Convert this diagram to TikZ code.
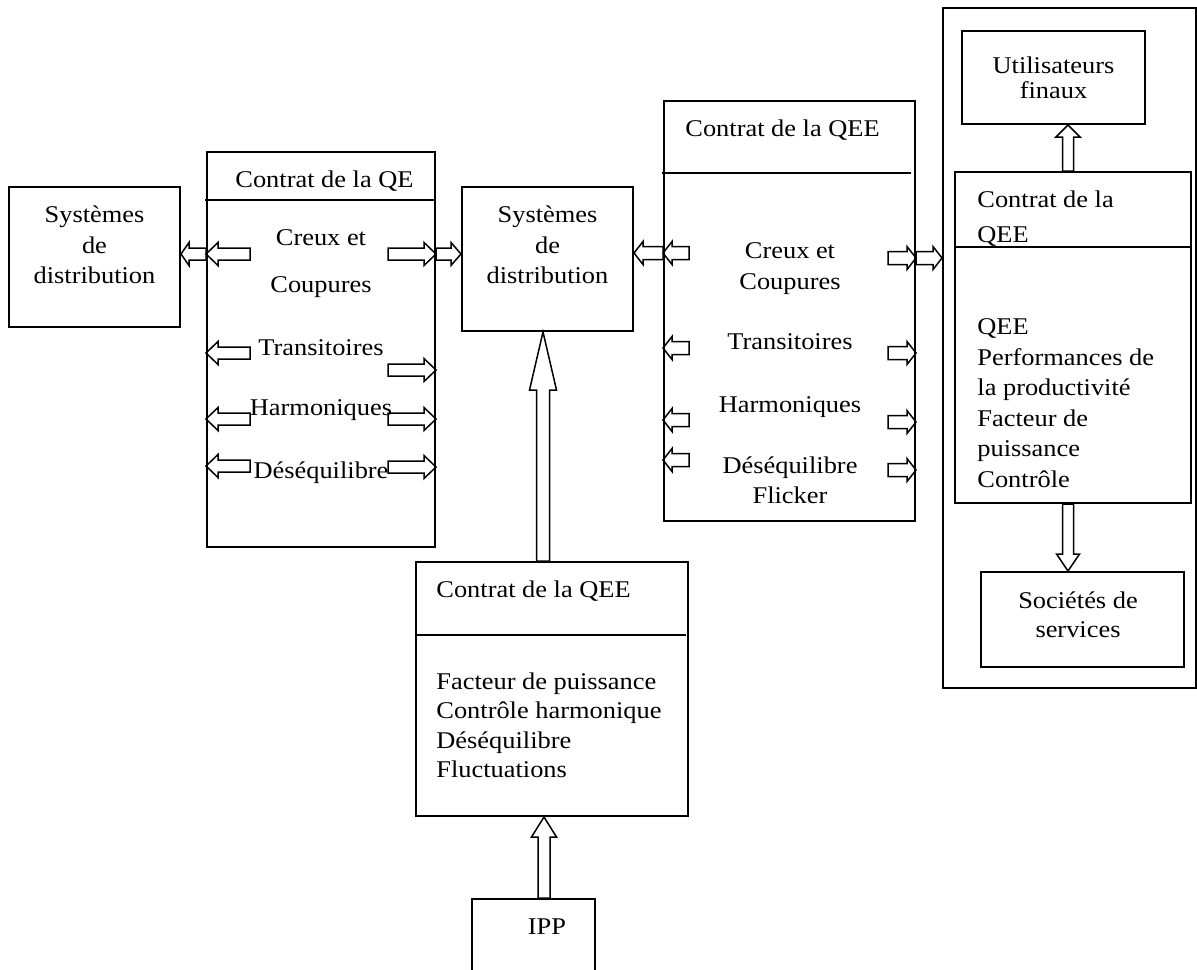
\documentclass[tikz,border=0pt]{standalone}
\usepackage{fontspec}
\setmainfont{Liberation Serif}[FakeStretch=1.1]
\usetikzlibrary{calc}

\newcommand{\fatarrow}[5]{%
  \coordinate (hb) at ($(#2)!#5!(#1)$);
  \draw[fat] ($(#1)!#3!90:(#2)$) -- ($(hb)!#3!-90:(#1)$) -- ($(hb)!#4!-90:(#1)$) -- (#2)
    -- ($(hb)!#4!90:(#1)$) -- ($(hb)!#3!90:(#1)$) -- ($(#1)!#3!-90:(#2)$) -- cycle;
}

\begin{document}
\begin{tikzpicture}[
    x=0.5pt, y=-0.5pt,
    every node/.style={font=\fontsize{12}{13.8}\selectfont},
    box/.style={draw, line width=1pt, inner sep=0pt},
    txt/.style={inner sep=0pt, align=center, anchor=north},
    lft/.style={inner sep=0pt, align=left, anchor=north west},
    fat/.style={draw, line width=0.75pt, line join=miter}
]
\useasboundingbox (0,0) rectangle (1197,969);
\clip (0,0) rectangle (1197,969);

\node[box, minimum width=85.5pt, minimum height=70pt] (lsys) at (94.5,257) {};
\node[txt, font=\fontsize{12}{15.25}\selectfont] (lsystxt) at (94.5,205.5) {Systèmes\\de\\distribution};

\node[box, minimum width=114pt, minimum height=197.5pt] (cqe) at (321,349.5) {};
\draw[line width=0.8pt] (205,200) -- (cqe.east |- 0,200);
\node[lft] (cqehead) at (235,170) {Contrat de la QE};
\node[txt, font=\fontsize{12}{23.5}\selectfont] (cqecreux) at (321,229.5) {Creux et\\Coupures};
\node[txt] (cqetrans) at (321,339.5) {Transitoires};
\node[txt] (cqeharm) at (321,399.5) {Harmoniques};
\node[txt] (cqedes) at (321,461.5) {Déséquilibre};

\node[box, minimum width=85.5pt, minimum height=72pt] (msys) at (547.5,259) {};
\node[txt, font=\fontsize{12}{15.25}\selectfont] (msystxt) at (547.5,205.5) {Systèmes\\de\\distribution};

\node[box, minimum width=125.5pt, minimum height=210pt] (cqee) at (789.5,311) {};
\draw[line width=0.8pt] (662,173) -- (911,173);
\node[lft] (cqeehead) at (685,119) {Contrat de la QEE};
\node[txt, font=\fontsize{12}{15.5}\selectfont] (cqeecreux) at (790,242.5) {Creux et\\Coupures};
\node[txt] (cqeetrans) at (790,333.5) {Transitoires};
\node[txt] (cqeeharm) at (790,396.5) {Harmoniques};
\node[txt, font=\fontsize{12}{15}\selectfont] (cqeedes) at (790,456.5) {Déséquilibre\\Flicker};

\node[box, minimum width=126.5pt, minimum height=340pt] (outer) at (1069.5,348) {};
\node[box, minimum width=91.5pt, minimum height=46.5pt] (users) at (1053.5,77.5) {};
\node[txt, font=\fontsize{12}{12.5}\selectfont] (userstxt) at (1053.5,56.5) {Utilisateurs\\finaux};
\node[box, minimum width=118pt, minimum height=165.5pt] (cqeer) at (1073,337.5) {};
\draw[line width=0.8pt] (cqeer.west |- 0,247) -- (cqeer.east |- 0,247);
\node[lft, font=\fontsize{12}{17.5}\selectfont] (cqeerhead) at (977,190.5) {Contrat de la\\QEE};
\node[lft, font=\fontsize{12}{15.25}\selectfont] (cqeerbody) at (977,318.5) {QEE\\Performances de\\la productivité\\Facteur de\\puissance\\Contrôle};
\node[box, minimum width=101.5pt, minimum height=47.5pt] (servs) at (1082.5,619.5) {};
\node[txt, font=\fontsize{12}{14.5}\selectfont] (servstxt) at (1078,591.5) {Sociétés de\\services};

\node[box, minimum width=136pt, minimum height=127pt] (cqeb) at (552,689) {};
\draw[line width=0.8pt] (cqeb.west |- 0,635) -- (686,635);
\node[lft] (cqebhead) at (436,580.5) {Contrat de la QEE};
\node[lft, font=\fontsize{12}{14.7}\selectfont] (cqebbody) at (436,672.5) {Facteur de puissance\\Contrôle harmonique\\Déséquilibre\\Fluctuations};

\node[box, minimum width=61.5pt, minimum height=50.5pt] (ipp) at (533.5,949.5) {};
\node[txt] (ipptxt) at (547,918.5) {IPP};

\coordinate (v1) at (543,0);
\coordinate (v2) at (544,0);
\coordinate (v3) at (1068,0);
\fatarrow{v1 |- cqeb.north}{v1 |- msys.south}{3.25pt}{6.75pt}{29pt}
\fatarrow{v2 |- ipp.north}{v2 |- cqeb.south}{3pt}{6.25pt}{10pt}
\fatarrow{v3 |- cqeer.north}{v3 |- users.south}{2.75pt}{6pt}{6pt}
\fatarrow{v3 |- cqeer.south}{v3 |- servs.north}{2.75pt}{5.75pt}{8.5pt}

\foreach \y [count=\i] in {254,353,419,466} {
  \coordinate (ql\i) at (250,\y);
  \fatarrow{ql\i}{cqe.west |- ql\i}{3pt}{5.75pt}{6pt}
}
\foreach \y [count=\i] in {254,370,419,467} {
  \coordinate (qr\i) at (388,\y);
  \fatarrow{qr\i}{cqe.east |- qr\i}{3pt}{5.75pt}{6pt}
}
\fatarrow{cqe.west |- ql1}{lsys.east |- ql1}{3pt}{5.75pt}{4pt}
\fatarrow{cqe.east |- qr1}{msys.west |- qr1}{3pt}{5.75pt}{5pt}

\foreach \y [count=\i] in {253,348,420,460} {
  \coordinate (el\i) at (689,\y);
  \fatarrow{el\i}{cqee.west |- el\i}{3.25pt}{5.75pt}{4.5pt}
}
\foreach \y [count=\i] in {258,353,422,470} {
  \coordinate (er\i) at (888,\y);
  \fatarrow{er\i}{cqee.east |- er\i}{3.25pt}{5.75pt}{4.5pt}
}
\fatarrow{cqee.west |- el1}{msys.east |- el1}{3.25pt}{5.75pt}{4.5pt}
\fatarrow{cqee.east |- er1}{outer.west |- er1}{3.25pt}{5.75pt}{4.5pt}

\end{tikzpicture}
\end{document}
